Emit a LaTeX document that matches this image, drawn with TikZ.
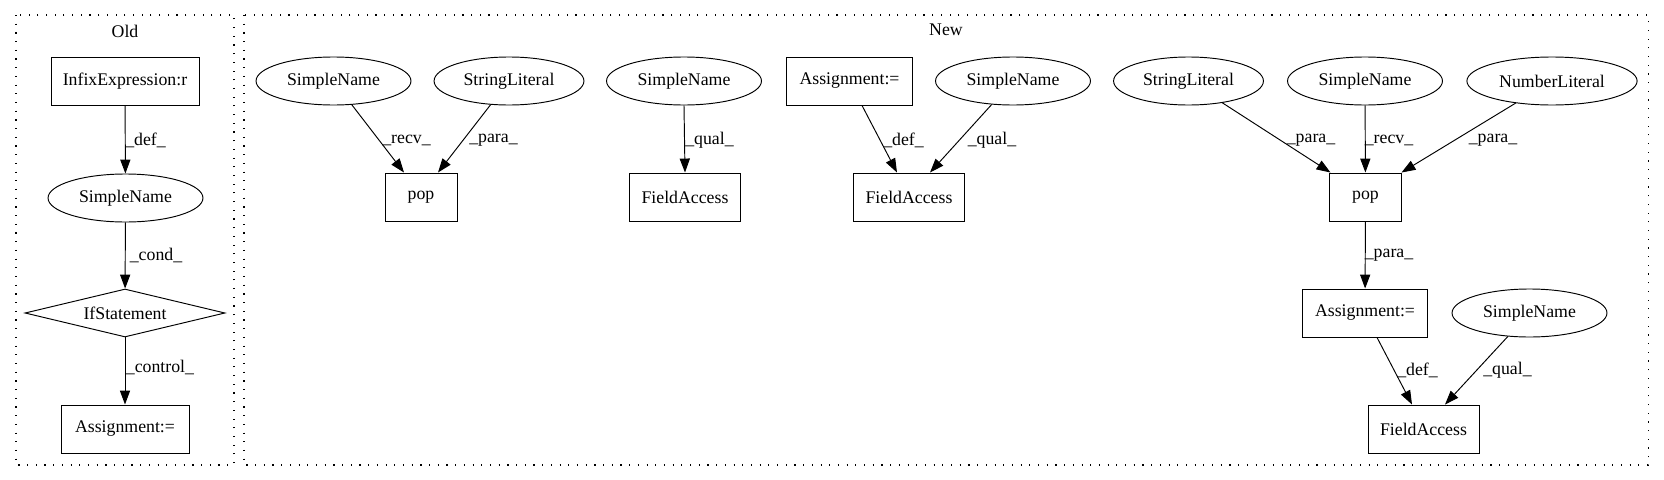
\documentclass[tikz,border=0pt]{standalone}
\usepackage{fontspec}
\setmainfont{Liberation Serif}
\usetikzlibrary{shapes.geometric,arrows.meta,calc}
\begin{document}
\begin{tikzpicture}[x=0.7874pt,y=-0.7874pt,
  every node/.style={font=\fontsize{14pt}{16pt}\selectfont},
  base/.style={draw, line width=0.75pt, inner sep=0pt, minimum height=37.8pt},
  box/.style={base, rectangle},
  ell/.style={base, ellipse},
  dia/.style={base, diamond, aspect=4},
  lab/.style={inner sep=0pt},
  conn/.style={draw, line width=0.75pt, -{Triangle[length=11pt,width=8pt]}},
  clus/.style={draw, line width=0.8pt, dash pattern=on 0.9pt off 5.95pt}]
\useasboundingbox (0,0) rectangle (1664,480);
\draw[clus] (16,15) rectangle (234,465);
\draw[clus] (244,15) rectangle (1648,465);
\node (oldlab) at (125,31) {Old};
\node (newlab) at (946,30) {New};
% Old
\node[box, minimum width=116.5pt] (infix) at (125,81) {InfixExpression:r};
\node[ell, minimum width=122pt] (osn) at (125.5,198) {SimpleName};
\node[dia, minimum width=157.5pt, minimum height=37.8pt] (oif) at (125,313) {IfStatement};
\node[box, minimum width=100.8pt] (oasg) at (125,429) {Assignment:=};
% New
\node[ell, minimum width=122pt] (sn1) at (333.5,81) {SimpleName};
\node[ell, minimum width=118pt] (sl1) at (509,81) {StringLiteral};
\node[ell, minimum width=122pt] (sn2) at (684,81) {SimpleName};
\node[box, minimum width=99pt] (asg2) at (849.5,81) {Assignment:=};
\node[ell, minimum width=122pt] (sn3) at (1013,81) {SimpleName};
\node[ell, minimum width=118pt] (sl2) at (1188.5,81) {StringLiteral};
\node[ell, minimum width=122pt] (sn4) at (1365,81) {SimpleName};
\node[ell, minimum width=134pt] (nl) at (1552,81) {NumberLiteral};
\node[box, minimum width=56.7pt] (pop1) at (421,197) {pop};
\node[box, minimum width=87.4pt] (fa1) at (685,197) {FieldAccess};
\node[box, minimum width=87.4pt] (fa2) at (909,197) {FieldAccess};
\node[box, minimum width=56.7pt] (pop2) at (1365.5,197) {pop};
\node[box, minimum width=99pt] (asg3) at (1365,313) {Assignment:=};
\node[ell, minimum width=122pt] (sn5) at (1529.5,313) {SimpleName};
\node[box, minimum width=87.4pt] (fa3) at (1423.5,429) {FieldAccess};
% edges
\draw[conn] (infix) -- (osn);
\draw[conn] (osn) -- (oif);
\draw[conn] (oif) -- (oasg);
\draw[conn] (sn1) -- ($(pop1.north)+(-17,0)$);
\draw[conn] (sl1) -- ($(pop1.north)+(17,0)$);
\draw[conn] (sn2.south) -- (fa1.north);
\draw[conn] ($(asg2.south)+(12.5,0)$) -- ($(fa2.north)+(-12,0)$);
\draw[conn] (sn3) -- ($(fa2.north)+(21,0)$);
\draw[conn] (sl2) -- ($(pop2.north)+(-35,0)$);
\draw[conn] (sn4) -- (pop2);
\draw[conn] (nl) -- ($(pop2.north)+(36,0)$);
\draw[conn] (pop2) -- (asg3);
\draw[conn] ($(asg3.south)+(12,0)$) -- ($(fa3.north)+(-11.5,0)$);
\draw[conn] (sn5) -- ($(fa3.north)+(21.5,0)$);
% labels
\node[lab] (l1) at (145.5,140) {\_def\_};
\node[lab] (l2) at (156,255) {\_cond\_};
\node[lab] (l3) at (160,367) {\_control\_};
\node[lab] (l4) at (406.5,140) {\_recv\_};
\node[lab] (l5) at (493.5,140) {\_para\_};
\node[lab] (l6) at (709.5,140) {\_qual\_};
\node[lab] (l7) at (903.5,140) {\_def\_};
\node[lab] (l8) at (992,140) {\_qual\_};
\node[lab] (l9) at (1311,140) {\_para\_};
\node[lab] (l10) at (1389,140) {\_recv\_};
\node[lab] (l11) at (1493,140) {\_para\_};
\node[lab] (l12) at (1389,255) {\_para\_};
\node[lab] (l13) at (1417.5,370) {\_def\_};
\node[lab] (l14) at (1507.5,370) {\_qual\_};
\end{tikzpicture}
\end{document}
